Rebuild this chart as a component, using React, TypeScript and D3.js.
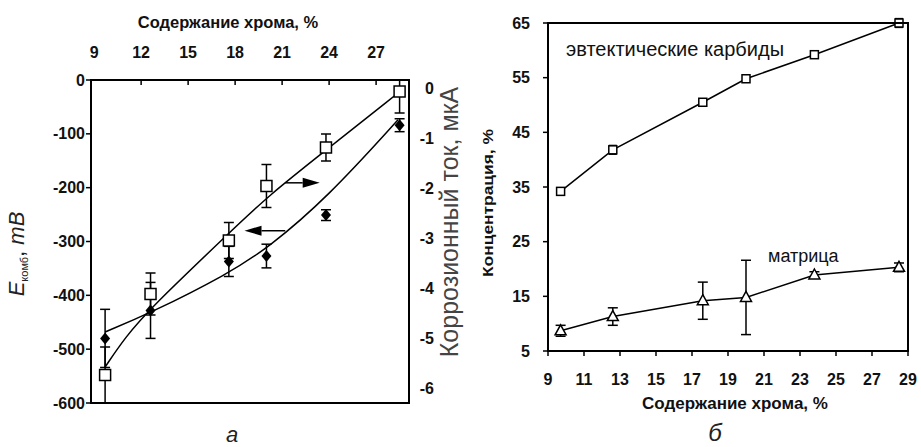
import React from "react";
import * as d3 from "d3";

// chromium content, % (shared x for both panels)
const chromium = [9.7, 12.6, 17.6, 20.0, 23.8, 28.5];

// panel a: corrosion potential, mV (filled diamonds, left axis)
const potential = [-480, -428, -337, -327, -251, -84];
const potentialErr = [54, 52, 28, 22, 10, 12];
// panel a: corrosion current, uA (open squares, right axis)
const current = [-5.74, -4.12, -3.05, -1.96, -1.19, -0.07];
const currentErr = [0.56, 0.42, 0.36, 0.43, 0.27, 0.43];

// fitted curves
const potentialFitX = [9.7, 12.6, 17.55, 20.1, 23.9, 28.4];
const potentialFitY = [-468, -433, -360, -312, -218, -74];
const currentFitX = [9.7, 11.0, 12.6, 17.55, 20.1, 23.9, 28.4];
const currentFitY = [-5.58, -4.98, -4.4, -2.92, -2.16, -1.22, -0.1];

// panel b: concentration, %
const carbides = [34.2, 41.8, 50.5, 54.8, 59.2, 65.0];
const carbidesErr = [0.5, 0.8, 0.4, 0.6, 0.6, 0.8];
const matrix = [8.7, 11.3, 14.2, 14.8, 18.9, 20.3];
const matrixErr = [1.0, 1.6, 3.4, 6.8, 0.6, 0.8];

const topTicks = [9, 12, 15, 18, 21, 24, 27];
const potentialTicks = [0, -100, -200, -300, -400, -500, -600];
const currentTicks = [0, -1, -2, -3, -4, -5, -6];
const bottomTicks = [9, 11, 13, 15, 17, 19, 21, 23, 25, 27, 29];
const concTicks = [5, 15, 25, 35, 45, 55, 65];

const FONT = "'Liberation Sans', Arial, sans-serif";

export default function App() {
  // panel a frame
  const A = { l: 91, r: 409, t: 80, b: 403 };
  // panel b frame
  const B = { l: 548, r: 908, t: 23, b: 351 };

  const xA = d3.scaleLinear().domain([8.8, 29.1]).range([A.l, A.r]);
  const yPot = d3.scaleLinear().domain([0, -600]).range([A.t, A.b]);
  const yCur = d3.scaleLinear().domain([0.16, -6.3]).range([A.t, A.b]);

  const xB = d3.scaleLinear().domain([9, 29]).range([B.l, B.r]);
  const yB = d3.scaleLinear().domain([5, 65]).range([B.b, B.t]);

  const curve = (xs: number[], ys: number[], ys2: d3.ScaleLinear<number, number>) =>
    d3
      .line<number>()
      .x((_, i) => xA(xs[i]))
      .y((v) => ys2(v))
      .curve(d3.curveBasis)(ys) || "";

  const polyB = (vals: number[]) =>
    d3
      .line<number>()
      .x((_, i) => xB(chromium[i]))
      .y((v) => yB(v))(vals) || "";

  const errBar = (x: number, y1: number, y2: number, key: string, cap = 5) => (
    <g key={key} stroke="#000" strokeWidth={1.5}>
      <line x1={x} x2={x} y1={y1} y2={y2} />
      <line x1={x - cap} x2={x + cap} y1={y1} y2={y1} />
      <line x1={x - cap} x2={x + cap} y1={y2} y2={y2} />
    </g>
  );

  const tick = { fontFamily: FONT, fontSize: 16, fontWeight: 700, fill: "#111" } as const;

  // arrows (in panel a data coordinates)
  const arrowR = { from: 21.2, to: 23.4, at: -191 };
  const arrowL = { from: 21.2, to: 18.6, at: -280 };
  const arrow = (a: { from: number; to: number; at: number }, key: string) => {
    const x0 = xA(a.from);
    const x1 = xA(a.to);
    const y = yPot(a.at);
    const dir = Math.sign(x1 - x0);
    const hx = x1 - dir * 17;
    return (
      <g key={key}>
        <line x1={x0} x2={hx} y1={y} y2={y} stroke="#000" strokeWidth={1.5} />
        <path d={`M${x1},${y} L${hx},${y - 5} L${hx},${y + 5} Z`} fill="#000" />
      </g>
    );
  };

  return (
    <svg
      width={921}
      height={447}
      style={{ position: "absolute", left: 0, top: 0, background: "#fff" }}
    >
      <defs>
        <clipPath id="clipA">
          <rect x={A.l} y={A.t} width={A.r - A.l} height={A.b - A.t} />
        </clipPath>
      </defs>

      {/* ---------- panel a ---------- */}
      <text x={228} y={22} dy="0.35em" textAnchor="middle" {...tick} fontSize={16.5}>
        Содержание хрома, %
      </text>
      {topTicks.map((v) => (
        <g key={"tt" + v}>
          <text x={xA(v)} y={52} dy="0.35em" textAnchor="middle" {...tick}>
            {v}
          </text>
          {v > 9 && <line x1={xA(v)} x2={xA(v)} y1={A.t} y2={A.t + 5} stroke="#000" strokeWidth={1.5} />}
        </g>
      ))}
      {potentialTicks.map((v) => (
        <g key={"pt" + v}>
          <text x={85} y={yPot(v)} dy="0.35em" textAnchor="end" {...tick}>
            {v}
          </text>
          <line x1={A.l - 5} x2={A.l} y1={yPot(v)} y2={yPot(v)} stroke="#000" strokeWidth={1.5} />
        </g>
      ))}
      {currentTicks.map((v) => (
        <text key={"ct" + v} x={434} y={yCur(v)} dy="0.35em" textAnchor="end" {...tick}>
          {v}
        </text>
      ))}

      <g clipPath="url(#clipA)">
        <path d={curve(potentialFitX, potentialFitY, yPot)} fill="none" stroke="#000" strokeWidth={1.5} />
        <path d={curve(currentFitX, currentFitY, yCur)} fill="none" stroke="#000" strokeWidth={1.5} />
        {chromium.map((c, i) =>
          errBar(xA(c), yCur(current[i] + currentErr[i]), yCur(current[i] - currentErr[i]), "ce" + i)
        )}
        {chromium.map((c, i) =>
          errBar(xA(c), yPot(potential[i] + potentialErr[i]), yPot(potential[i] - potentialErr[i]), "pe" + i)
        )}
        {chromium.map((c, i) => (
          <rect
            key={"sq" + i}
            x={xA(c) - 5.5}
            y={yCur(current[i]) - 5.5}
            width={11}
            height={11}
            fill="#fff"
            stroke="#000"
            strokeWidth={1.5}
          />
        ))}
        {chromium.map((c, i) => {
          const x = xA(c);
          const y = yPot(potential[i]);
          return <path key={"dm" + i} d={`M${x},${y - 6} L${x + 5},${y} L${x},${y + 6} L${x - 5},${y} Z`} fill="#000" />;
        })}
      </g>
      {arrow(arrowR, "ar")}
      {arrow(arrowL, "al")}
      <rect x={A.l} y={A.t} width={A.r - A.l} height={A.b - A.t} fill="none" stroke="#000" strokeWidth={2} />

      <text transform="translate(24,254) rotate(-90)" textAnchor="middle" fontFamily={FONT} fill="#222">
        <tspan fontSize={22} fontStyle="italic">E</tspan>
        <tspan fontSize={11} dy={4}>комб</tspan>
        <tspan fontSize={22} dy={-4}>, </tspan>
        <tspan fontSize={22} fontStyle="italic">mB</tspan>
      </text>
      <text
        transform="translate(449,222) rotate(-90)"
        textAnchor="middle"
        dy="0.35em"
        fontFamily={FONT}
        fontSize={25}
        fill="#444"
      >
        Коррозионный ток, мкА
      </text>
      <text x={232} y={434} dy="0.35em" textAnchor="middle" fontFamily={FONT} fontSize={22} fontStyle="italic" fill="#222">
        а
      </text>

      {/* ---------- panel b ---------- */}
      {concTicks.map((v) => (
        <g key={"yb" + v}>
          <text x={530} y={yB(v)} dy="0.35em" textAnchor="end" {...tick}>
            {v}
          </text>
          <line x1={B.l - 5} x2={B.l} y1={yB(v)} y2={yB(v)} stroke="#000" strokeWidth={1.5} />
        </g>
      ))}
      {bottomTicks.map((v) => (
        <g key={"xb" + v}>
          <text x={xB(v)} y={379} dy="0.35em" textAnchor="middle" {...tick}>
            {v}
          </text>
          <line x1={xB(v)} x2={xB(v)} y1={B.b} y2={B.b + 5} stroke="#000" strokeWidth={1.5} />
        </g>
      ))}
      <text x={735} y={403} dy="0.35em" textAnchor="middle" {...tick} fontSize={17}>
        Содержание хрома, %
      </text>
      <text
        transform="translate(488,203) rotate(-90)"
        dy="0.35em"
        textAnchor="middle"
        {...tick}
        fontSize={15}
        textLength={148}
        lengthAdjust="spacingAndGlyphs"
      >
        Концентрация, %
      </text>

      <path d={polyB(carbides)} fill="none" stroke="#000" strokeWidth={1.5} />
      <path d={polyB(matrix)} fill="none" stroke="#000" strokeWidth={1.5} />
      {chromium.map((c, i) => errBar(xB(c), yB(carbides[i] + carbidesErr[i]), yB(carbides[i] - carbidesErr[i]), "cbe" + i, 4))}
      {chromium.map((c, i) => errBar(xB(c), yB(matrix[i] + matrixErr[i]), yB(matrix[i] - matrixErr[i]), "mte" + i, 5))}
      {chromium.map((c, i) => (
        <rect
          key={"cb" + i}
          x={xB(c) - 4}
          y={yB(carbides[i]) - 4}
          width={8}
          height={8}
          fill="#fff"
          stroke="#000"
          strokeWidth={1.5}
        />
      ))}
      {chromium.map((c, i) => {
        const x = xB(c);
        const y = yB(matrix[i]);
        return (
          <path
            key={"tr" + i}
            d={`M${x},${y - 6} L${x + 5.5},${y + 4} L${x - 5.5},${y + 4} Z`}
            fill="#fff"
            stroke="#000"
            strokeWidth={1.5}
          />
        );
      })}
      <rect x={B.l} y={B.t} width={B.r - B.l} height={B.b - B.t} fill="none" stroke="#000" strokeWidth={2} />

      <text x={566} y={56} fontFamily={FONT} fontSize={20} fill="#111">
        эвтектические карбиды
      </text>
      <text x={768} y={262} fontFamily={FONT} fontSize={18} fill="#111">
        матрица
      </text>
      <text x={715} y={433} dy="0.35em" textAnchor="middle" fontFamily={FONT} fontSize={24} fontStyle="italic" fill="#222">
        б
      </text>
    </svg>
  );
}
